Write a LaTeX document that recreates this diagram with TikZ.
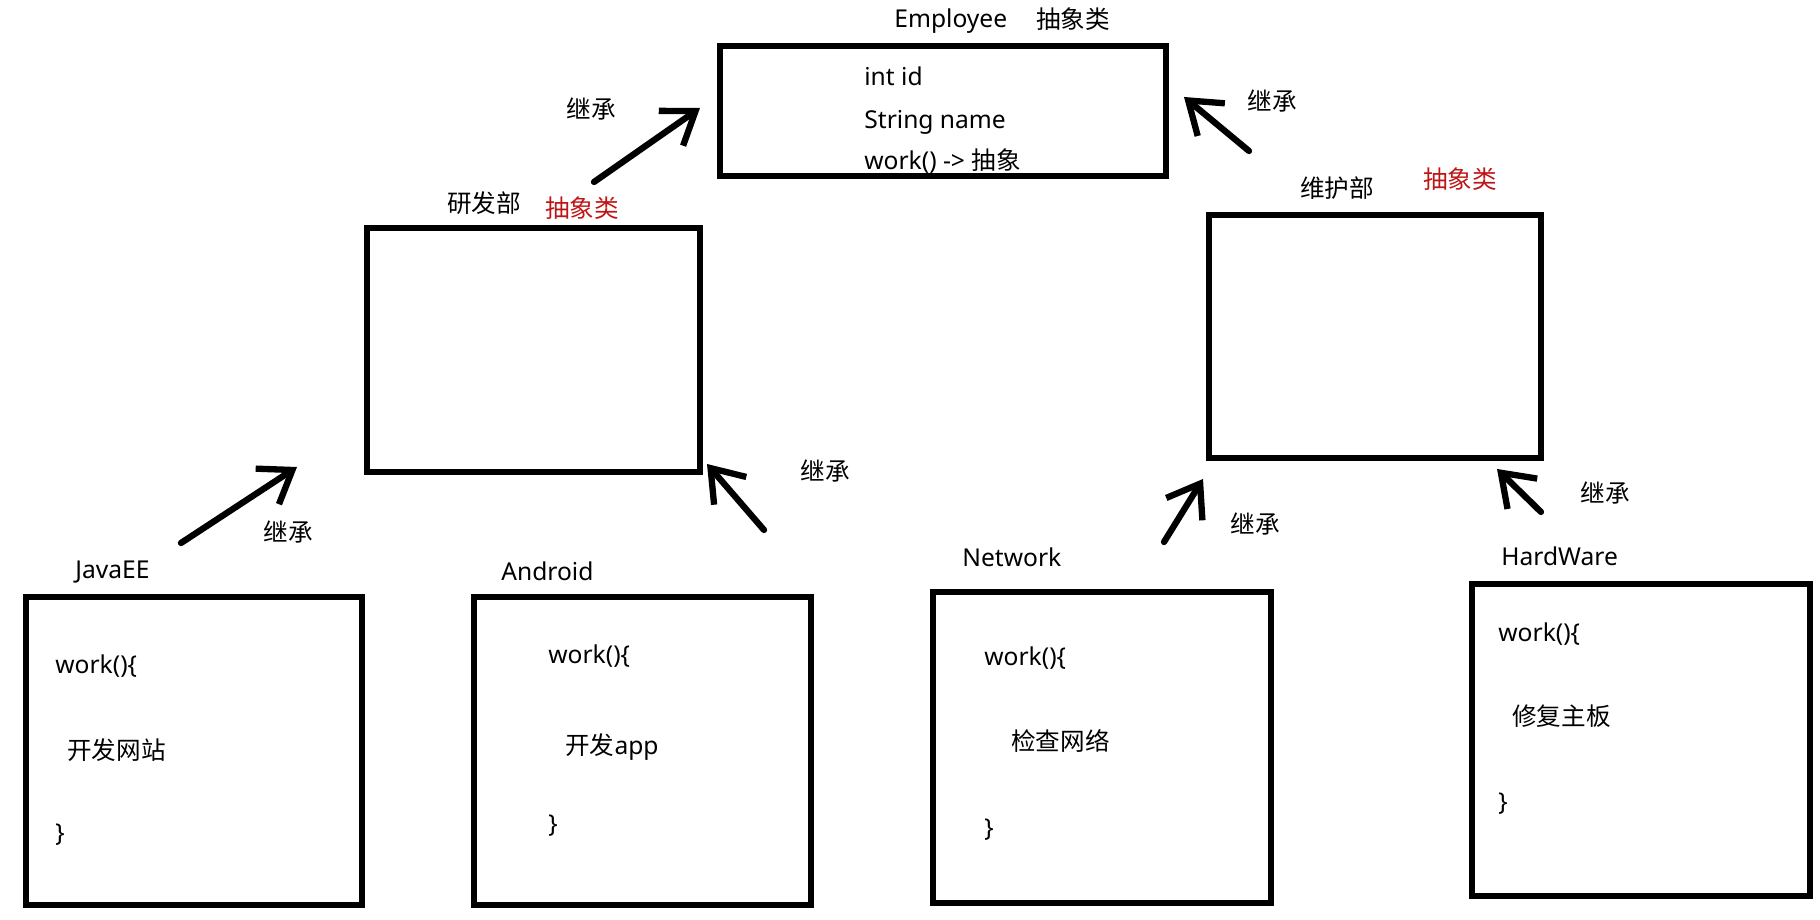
\documentclass[tikz,border=0pt]{standalone}
\usepackage{fontspec}
\setmainfont{Noto Sans}
\newfontfamily\cjk{Noto Sans CJK SC}
\usetikzlibrary{arrows.meta}
\definecolor{absred}{RGB}{190,22,22}

\begin{document}
\begin{tikzpicture}[x=2cm, y=2cm,
    font=\fontsize{14}{17}\selectfont,
    box/.style={draw, line width=3.4pt, outer sep=0pt, inner sep=0pt},
    txt/.style={anchor=west, inner sep=0pt, text height=13pt, text depth=3pt},
    inh/.style={line width=3.6pt, line cap=round, -{Straight Barb[length=6mm,width=8.5mm]}}]

    \useasboundingbox (0,0) rectangle (18.2,9.2);

    % Class boxes
    \node[box, minimum width=8.92cm, minimum height=2.6cm] (emp) at (9.43,8.09) {};
    \node[box, minimum width=6.66cm, minimum height=4.88cm] (yanfa) at (5.335,5.70) {};
    \node[box, minimum width=6.64cm, minimum height=4.86cm] (weihu) at (13.75,5.835) {};
    \node[box, minimum width=6.72cm, minimum height=6.16cm] (javaee) at (1.94,1.69) {};
    \node[box, minimum width=6.74cm, minimum height=6.16cm] (android) at (6.425,1.69) {};
    \node[box, minimum width=6.76cm, minimum height=6.22cm] (network) at (11.02,1.725) {};
    \node[box, minimum width=6.76cm, minimum height=6.24cm] (hardware) at (16.41,1.80) {};

    % Titles
    \node[txt] (empname) at (8.94,9.01) {Employee};
    \node[txt] (empabs) at (10.36,9.00) {\cjk 抽象类};
    \node[txt] (yanfaname) at (4.47,7.16) {\cjk 研发部};
    \node[txt, absred] (yanfaabs) at (5.45,7.11) {\cjk 抽象类};
    \node[txt] (weihuname) at (13.00,7.31) {\cjk 维护部};
    \node[txt, absred] (weihuabs) at (14.23,7.40) {\cjk 抽象类};
    \node[txt] (javaeename) at (0.75,3.50) {JavaEE};
    \node[txt] (androidname) at (5.01,3.48) {Android};
    \node[txt] (networkname) at (9.62,3.62) {Network};
    \node[txt] (hardwarename) at (15.01,3.63) {HardWare};

    % Employee members
    \node[txt] (empid) at (8.64,8.43) {int id};
    \node[txt] (empstr) at (8.64,8.00) {String name};
    \node[txt] (empwork) at (8.64,7.59) {work() -{}> {\cjk 抽象}};

    % work() bodies
    \node[txt] (jwork) at (0.55,2.55) {work()\{};
    \node[txt] (jbody) at (0.67,1.69) {\cjk 开发网站};
    \node[txt] (jend) at (0.55,0.87) {\}};

    \node[txt] (awork) at (5.48,2.65) {work()\{};
    \node[txt] (abody) at (5.65,1.74) {{\cjk 开发}app};
    \node[txt] (aend) at (5.48,0.96) {\}};

    \node[txt] (nwork) at (9.84,2.63) {work()\{};
    \node[txt] (nbody) at (10.11,1.78) {\cjk 检查网络};
    \node[txt] (nend) at (9.84,0.92) {\}};

    \node[txt] (hwork) at (14.98,2.87) {work()\{};
    \node[txt] (hbody) at (15.12,2.03) {\cjk 修复主板};
    \node[txt] (hend) at (14.98,1.18) {\}};

    % Inheritance arrows
    \draw[inh] ([shift={(-1.06,0.46)}]yanfa.north east) -- ([shift={(-0.20,0.03)}]emp.west);
    \draw[inh] ([shift={(-1.26,0.64)}]weihu.north) -- ([shift={(0.18,0.14)}]emp.east);
    \draw[inh] ([shift={(-0.13,0.54)}]javaee.north) -- ([shift={(-0.70,0.05)}]yanfa.south west);
    \draw[inh] ([shift={(-0.47,0.67)}]android.north east) -- ([shift={(0.07,0.08)}]yanfa.south east);
    \draw[inh] ([shift={(-1.07,0.50)}]network.north east) -- ([shift={(-0.06,-0.21)}]weihu.south west);
    \draw[inh] ([shift={(-1.00,0.72)}]hardware.north) -- ([shift={(-0.44,-0.11)}]weihu.south east);

    % Arrow labels
    \node[txt, anchor=center] (l1) at (5.91,8.10) {\cjk 继承};
    \node[txt, anchor=center] (l2) at (12.72,8.18) {\cjk 继承};
    \node[txt, anchor=center] (l3) at (2.88,3.87) {\cjk 继承};
    \node[txt, anchor=center] (l4) at (8.25,4.48) {\cjk 继承};
    \node[txt, anchor=center] (l5) at (12.55,3.95) {\cjk 继承};
    \node[txt, anchor=center] (l6) at (16.05,4.26) {\cjk 继承};

\end{tikzpicture}
\end{document}
